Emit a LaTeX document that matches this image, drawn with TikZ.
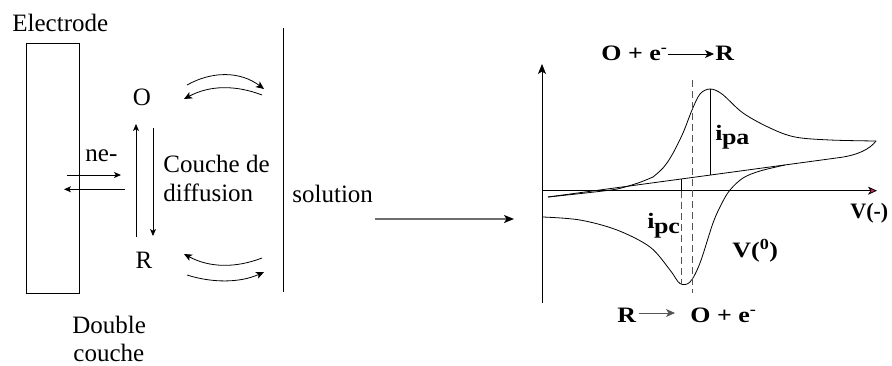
\documentclass[tikz,border=0pt]{standalone}
\usepackage{fontspec}
\setmainfont{Liberation Serif}
\usetikzlibrary{arrows.meta,calc}
\definecolor{pinkhead}{RGB}{226,30,110}
\definecolor{dashgray}{RGB}{85,85,85}
\definecolor{arrgray}{RGB}{110,110,110}
\newcommand{\stretchlbl}[1]{\scalebox{1.18}[1]{#1}}
\begin{document}
\begin{tikzpicture}[x=1pt,y=-1pt,line width=0.8pt,
  txt/.style={font=\fontsize{25}{30}\selectfont,inner sep=0pt,anchor=base west},
  lbl/.style={font=\bfseries\fontsize{22}{26}\selectfont,inner sep=0pt,anchor=base west},
  bigarr/.style={-{Stealth[length=8pt,width=7pt,inset=2pt]}},
  smallarr/.style={-{Stealth[length=7pt,width=6pt,inset=1.8pt]}},
  chemarr/.style={-{Stealth[length=9pt,width=8pt,inset=2.5pt]}},
  dashln/.style={dashgray,dash pattern=on 7pt off 4pt,line width=0.9pt}]
\useasboundingbox (0,0) rectangle (892,365);

% ---------- left part ----------
\node[txt] (electrode) at (12,31) {Electrode};
\node[draw,minimum width=53pt,minimum height=250pt,inner sep=0pt] (elec) at (52.5,168) {};
\node[txt,anchor=base] (O) at (142,105) {O};
\node[txt,anchor=base] (R) at (144,268) {R};
\node[txt] (ne) at (85,161) {ne-};
\node[txt] (couche) at (163,172) {Couche de};
\node[txt] (diff) at (163,201) {diffusion};
\node[txt] (solution) at (292,202) {solution};
\node[txt] (double) at (72,333) {Double};
\node[txt] (couche2) at (73,361) {couche};

\draw[smallarr] (67,175) -- (121,175);
\draw[smallarr] (125,189.3) -- (64,189.3);
\draw[smallarr] (136,237) -- (136,124);
\draw[smallarr] (153,128) -- (153,236);

\draw[bigarr] (187,85) .. controls (212,71) and (240,71) .. (264,89);
\draw[bigarr] (262,95) .. controls (236,85) and (210,85) .. (184,99);
\draw[bigarr] (262,258) .. controls (236,268) and (210,268) .. (184,254);
\draw[bigarr] (187,275) .. controls (212,283) and (240,283) .. (264,272);

\draw (283,28) -- (283,292);

\draw[arrgray,line width=1.4pt,-{Stealth[length=10pt,width=8pt,inset=2.5pt,color=black]}] (375,219) -- (514,219);

% ---------- right part: voltammogram ----------
\draw[-{Stealth[length=10pt,width=8pt,inset=2.5pt]}] (542,303) -- (542,64);
\draw[-{Stealth[length=9pt,width=8pt,inset=2.5pt,fill=pinkhead]}] (542,190.7) -- (877,190.7);

\draw (548,197) -- (840,157.5) .. controls (858,155) and (870,149) .. (876,141);
\draw plot[smooth,tension=0.5] coordinates {(548,197) (590,192.5) (617,189) (638,183) (653,177)};
\draw plot[smooth,tension=0.55] coordinates {(653,177) (663,168) (672,155) (683,133) (692,110) (700,94) (710,89) (722,94) (743,113) (770,128) (795,137) (830,140) (876,141)};
\draw plot[smooth,tension=0.55] coordinates {(543,217) (580,220) (617,230) (650,247) (670,270) (680,283.5) (690,282) (700,263) (713,223) (722,203) (730,190) (743,178) (760,171) (785,165)};

\draw (710,89) -- (710,175);
\draw (681,179) -- (681,190.7);
\draw[dashln] (681,190.7) -- (681,284);
\draw[dashln] (692.5,80) -- (692.5,293);

\node[lbl] (oe1) at (601,60) {\stretchlbl{O + e\textsuperscript{-}}};
\node[lbl] (r1) at (715,60) {\stretchlbl{R}};
\draw[chemarr] ($(oe1.base east)+(0,-6)$) -- ($(r1.base west)+(-1,-6)$);

\node[lbl] (r2) at (617,322) {\stretchlbl{R}};
\node[lbl] (oe2) at (690,322) {\stretchlbl{O + e\textsuperscript{-}}};
\draw[chemarr,dashgray] ($(r2.base east)+(2,-9)$) -- ($(oe2.base west)+(-15,-9)$);

\node[lbl] (ipa) at (715,140) {\stretchlbl{i\kern-0.5pt\raisebox{-4pt}{pa}}};
\node[lbl] (ipc) at (647,228) {\stretchlbl{i\kern-0.5pt\raisebox{-5pt}{pc}}};
\node[lbl] (v0) at (732,257) {\stretchlbl{V(\textsuperscript{0})}};
\node[lbl] (vm) at (850,218) {V(-)};
\end{tikzpicture}
\end{document}
